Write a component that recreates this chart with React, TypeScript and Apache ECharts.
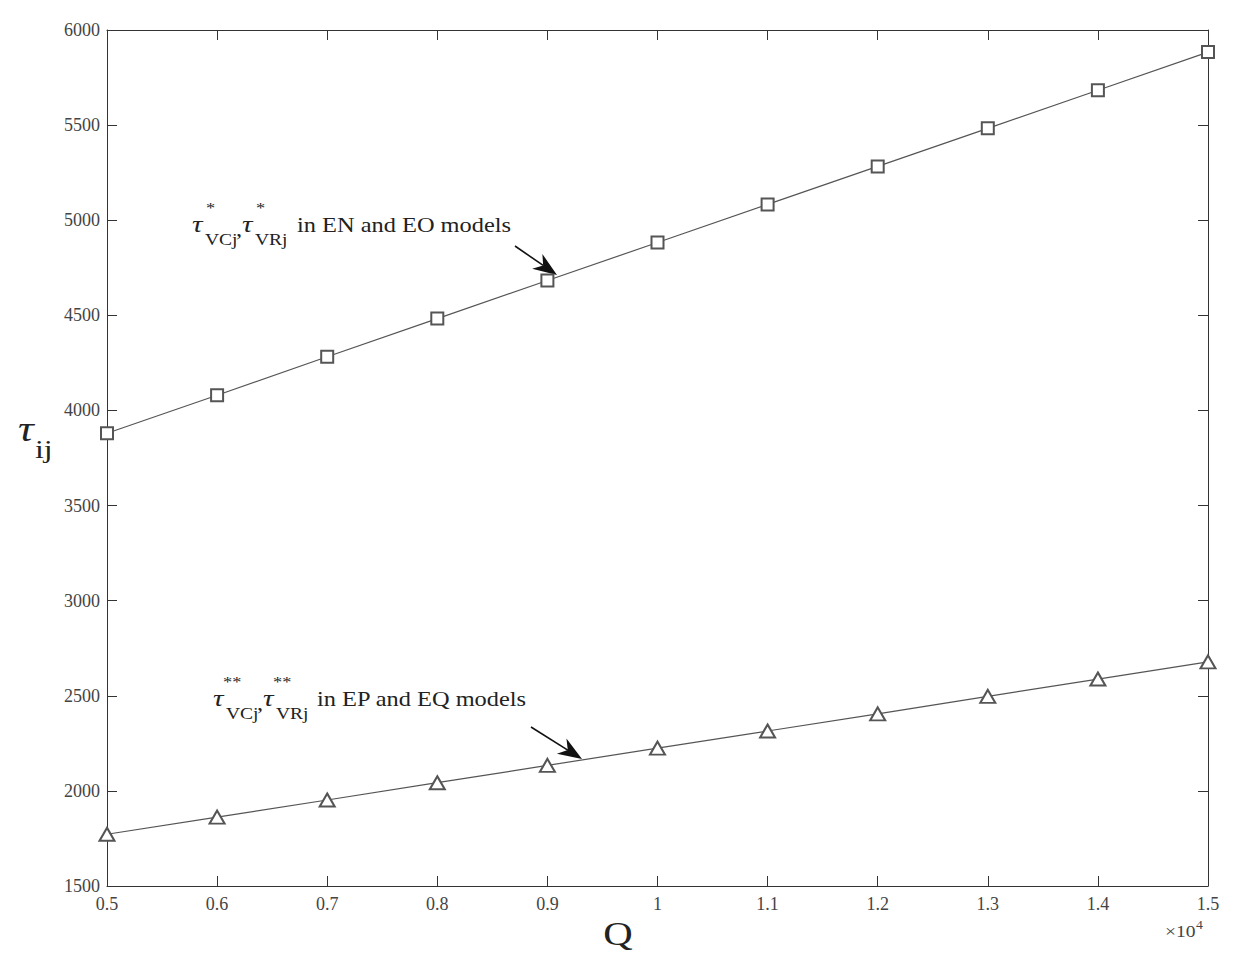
import React, { useEffect, useRef } from "react";
import * as echarts from "echarts";

const qValues = [5000, 6000, 7000, 8000, 9000, 10000, 11000, 12000, 13000, 14000, 15000];
const tauStar = [3880, 4080, 4282, 4483, 4683, 4883, 5083, 5283, 5483, 5683, 5884];
const tauDoubleStar = [1772, 1862, 1952, 2043, 2134, 2225, 2315, 2405, 2497, 2588, 2678];
const annotationTop = "in EN and EO models";
const annotationBottom = "in EP and EQ models";
const xAxisTitle = "Q";

const SERIF = "'Liberation Serif', 'Times New Roman', serif";
const SX = 1.22;

function txt(x: number, baseline: number, text: string, size: number, opts: any = {}) {
  return {
    type: "text",
    x,
    y: baseline - size * 0.33,
    scaleX: opts.scaleX ?? SX,
    silent: true,
    style: {
      text,
      x: 0,
      y: 0,
      fontFamily: SERIF,
      fontSize: size,
      fontStyle: opts.italic ? "italic" : "normal",
      fill: opts.fill ?? "#222",
      verticalAlign: "middle",
      align: opts.align ?? "left",
    },
  };
}

function tauLabel(x: number, baseline: number, stars: string, text: string, textX: number) {
  const els: any[] = [];
  const starW = stars.length === 1 ? 0 : -4;
  els.push(txt(x, baseline, "τ", 24, { italic: true }));
  els.push(txt(x + 14 + starW, baseline - 19, stars, 15));
  els.push(txt(x + 13, baseline + 13, "VCj", 16));
  els.push(txt(x + 44, baseline + 4, ",", 20));
  els.push(txt(x + 50, baseline, "τ", 24, { italic: true }));
  els.push(txt(x + 64 + starW, baseline - 19, stars, 15));
  els.push(txt(x + 63, baseline + 13, "VRj", 16));
  els.push(txt(textX, baseline, text, 20));
  return els;
}

function arrow(x1: number, y1: number, x2: number, y2: number) {
  const dx = x2 - x1;
  const dy = y2 - y1;
  const len = Math.sqrt(dx * dx + dy * dy);
  const ux = dx / len;
  const uy = dy / len;
  const px = -uy;
  const py = ux;
  const hl = 24;
  const hw = 9;
  const bx = x2 - ux * hl;
  const by = y2 - uy * hl;
  const nx = x2 - ux * hl * 0.7;
  const ny = y2 - uy * hl * 0.7;
  return [
    {
      type: "line",
      silent: true,
      shape: { x1, y1, x2: nx, y2: ny },
      style: { stroke: "#111", lineWidth: 1.6 },
    },
    {
      type: "polygon",
      silent: true,
      shape: {
        points: [
          [x2, y2],
          [bx + px * hw, by + py * hw],
          [nx, ny],
          [bx - px * hw, by - py * hw],
        ],
      },
      style: { fill: "#111" },
    },
  ];
}

export default function App() {
  const ref = useRef<HTMLDivElement>(null);

  useEffect(() => {
    if (!ref.current) return;
    const chart = echarts.init(ref.current, null, { renderer: "svg" });
    const axisLineStyle = { color: "#333", width: 1 };
    const labelStyle = { fontFamily: SERIF, fontSize: 18, color: "#444" };
    const fmtX = (v: number) => String(Math.round(v / 1000) / 10);
    const fmtY = (v: number) => String(v);

    chart.setOption({
      animation: false,
      backgroundColor: "#fff",
      grid: { left: 107, right: 30, top: 30, bottom: 84, containLabel: false, outerBoundsMode: "none" },
      xAxis: [
        {
          type: "value",
          min: 5000,
          max: 15000,
          interval: 1000,
          axisLine: { show: true, lineStyle: axisLineStyle },
          axisTick: { show: true, inside: true, length: 10, lineStyle: axisLineStyle },
          axisLabel: { ...labelStyle, margin: 9, formatter: fmtX, showMinLabel: true, showMaxLabel: true },
          splitLine: { show: false },
        },
        {
          type: "value",
          position: "top",
          min: 5000,
          max: 15000,
          interval: 1000,
          axisLine: { show: true, lineStyle: axisLineStyle },
          axisTick: { show: true, inside: true, length: 10, lineStyle: axisLineStyle },
          axisLabel: { show: false },
          splitLine: { show: false },
        },
      ],
      yAxis: [
        {
          type: "value",
          min: 1500,
          max: 6000,
          interval: 500,
          axisLine: { show: true, lineStyle: axisLineStyle },
          axisTick: { show: true, inside: true, length: 10, lineStyle: axisLineStyle },
          axisLabel: { ...labelStyle, margin: 7, formatter: fmtY },
          splitLine: { show: false },
        },
        {
          type: "value",
          position: "right",
          min: 1500,
          max: 6000,
          interval: 500,
          axisLine: { show: true, lineStyle: axisLineStyle },
          axisTick: { show: true, inside: true, length: 10, lineStyle: axisLineStyle },
          axisLabel: { show: false },
          splitLine: { show: false },
        },
      ],
      series: [
        {
          type: "line",
          name: "tauStar",
          data: qValues.map((q, i) => [q, tauStar[i]]),
          symbol: "emptyRect",
          symbolSize: 12,
          lineStyle: { color: "#555", width: 1.2 },
          itemStyle: { color: "#555", borderColor: "#555", borderWidth: 1.2 },
        },
        {
          type: "line",
          name: "tauDoubleStar",
          data: qValues.map((q, i) => [q, tauDoubleStar[i]]),
          symbol: "emptyTriangle",
          symbolSize: [15, 13],
          lineStyle: { color: "#555", width: 1.2 },
          itemStyle: { color: "#555", borderColor: "#555", borderWidth: 1.2 },
        },
      ],
      graphic: [
        ...tauLabel(192, 232, "*", annotationTop, 297),
        ...tauLabel(213, 706, "**", annotationBottom, 317),
        ...arrow(515, 246, 557, 275),
        ...arrow(531, 727, 582, 759),
        txt(18, 441, "τ", 36, { italic: true }),
        txt(35, 458, "ij", 26),
        txt(618, 945, xAxisTitle, 34, { align: "center", scaleX: 1.2 }),
        txt(1165, 937, "×10", 17, { fill: "#444", scaleX: 1.15 }),
        txt(1196, 929, "4", 12, { fill: "#444", scaleX: 1.15 }),
      ],
    });
    return () => chart.dispose();
  }, []);

  return (
    <div
      ref={ref}
      style={{ position: "fixed", left: 0, top: 0, width: 1238, height: 970, background: "#fff" }}
    />
  );
}
